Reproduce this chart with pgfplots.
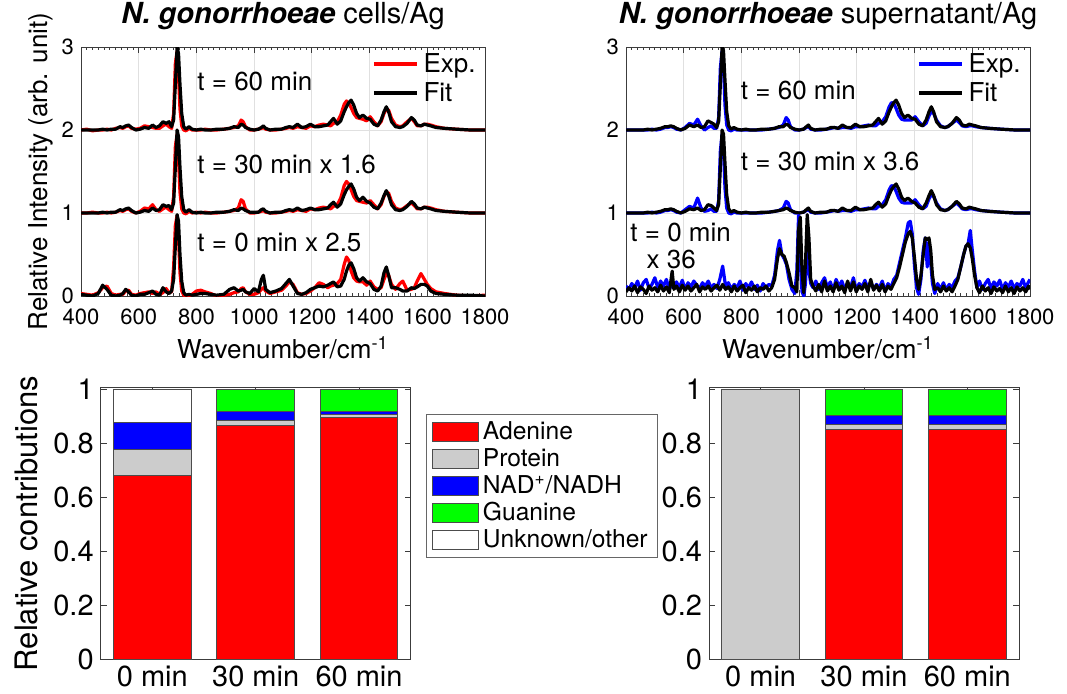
\documentclass[border=0pt]{standalone}
\usepackage{fontspec}
\setmainfont{TeX Gyre Heros}
\usepackage{pgfplots}
\usepackage{pgfplotstable}
\pgfplotsset{compat=1.18}

\definecolor{protgray}{RGB}{204,204,204}
\definecolor{axgray}{RGB}{60,60,60}

% cells/Ag spectra: exp (e) and fit (f), offsets 2 (60 min), 1 (30 min), 0 (0 min)
\pgfplotstableread{
x e60 f60 e30 f30 e0 f0
400 2.00 2.00 1.00 1.00 0.03 0.02
420 2.01 2.00 1.00 1.00 0.02 0.01
440 1.99 2.00 1.01 1.00 0.01 0.00
460 2.00 2.00 1.00 1.00 0.04 0.03
475 2.00 2.01 1.00 1.01 0.10 0.13
490 2.01 2.00 1.01 1.00 0.12 0.08
505 2.00 2.01 1.00 1.01 0.03 0.01
520 2.02 2.01 1.01 1.01 0.01 0.00
535 2.03 2.04 1.03 1.04 0.02 0.01
545 2.02 2.03 1.02 1.03 0.02 0.03
555 2.04 2.05 1.04 1.05 0.06 0.08
565 2.05 2.06 1.05 1.06 0.07 0.05
575 2.02 2.03 1.02 1.03 0.02 0.01
590 2.01 2.00 1.00 1.00 0.01 0.00
605 2.02 2.01 1.02 1.01 0.03 0.02
620 2.05 2.03 1.06 1.03 0.04 0.02
635 2.04 2.02 1.05 1.02 0.05 0.04
648 2.03 2.06 1.10 1.06 0.03 0.06
660 2.02 2.03 1.04 1.03 0.05 0.02
672 2.02 2.05 1.02 1.04 0.02 0.01
684 2.05 2.10 1.05 1.10 0.04 0.10
695 2.07 2.08 1.07 1.08 0.09 0.05
705 2.04 2.10 1.04 1.09 0.04 0.03
714 2.02 2.04 1.02 1.04 0.05 0.06
721 2.20 2.12 1.20 1.12 0.35 0.20
727 2.80 2.55 1.80 1.55 0.85 0.60
733 2.95 3.00 1.95 2.00 0.97 0.98
738 2.65 2.92 1.65 1.92 0.70 0.90
743 2.25 2.55 1.25 1.55 0.28 0.50
749 2.05 2.20 1.05 1.20 0.06 0.18
756 2.00 2.04 1.00 1.04 0.01 0.04
764 1.99 2.01 0.99 1.01 0.00 0.01
774 2.02 2.04 1.02 1.04 0.00 0.02
785 2.00 2.01 1.00 1.01 0.02 0.01
800 2.00 2.00 1.01 1.00 0.06 0.02
815 2.00 2.01 1.00 1.01 0.07 0.03
830 2.01 2.00 1.01 1.00 0.05 0.03
850 2.00 2.00 1.00 1.00 0.03 0.02
870 2.00 2.01 1.00 1.01 0.00 0.01
895 2.01 2.01 1.01 1.01 0.01 0.02
915 2.02 2.02 1.02 1.02 0.02 0.08
930 2.03 2.04 1.03 1.04 0.04 0.10
945 2.05 2.03 1.06 1.03 0.05 0.06
955 2.12 2.07 1.16 1.06 0.09 0.07
962 2.10 2.06 1.14 1.05 0.10 0.08
970 2.04 2.03 1.05 1.03 0.05 0.05
985 2.00 2.01 1.00 1.01 0.02 0.03
1000 2.00 2.00 1.00 1.01 0.02 0.09
1015 2.01 2.01 1.01 1.01 0.04 0.05
1025 2.02 2.03 1.02 1.04 0.08 0.20
1032 2.03 2.05 1.03 1.05 0.10 0.25
1040 2.01 2.02 1.01 1.02 0.06 0.08
1055 2.00 2.00 1.00 1.00 0.03 0.04
1075 2.00 2.01 1.00 1.01 0.05 0.06
1095 2.01 2.01 1.01 1.01 0.07 0.09
1110 2.02 2.03 1.02 1.03 0.12 0.15
1122 2.03 2.04 1.03 1.04 0.17 0.20
1135 2.02 2.03 1.02 1.03 0.14 0.12
1150 2.04 2.07 1.04 1.06 0.04 0.03
1165 2.03 2.03 1.03 1.03 0.02 0.02
1180 2.02 2.04 1.02 1.04 0.03 0.04
1195 2.05 2.07 1.05 1.06 0.06 0.08
1210 2.04 2.04 1.04 1.04 0.10 0.10
1225 2.06 2.04 1.06 1.04 0.16 0.12
1240 2.07 2.05 1.07 1.05 0.14 0.11
1255 2.06 2.06 1.06 1.06 0.10 0.13
1265 2.05 2.10 1.05 1.10 0.12 0.15
1275 2.08 2.14 1.08 1.13 0.13 0.17
1288 2.10 2.07 1.10 1.07 0.15 0.11
1300 2.18 2.11 1.18 1.11 0.20 0.12
1312 2.31 2.22 1.33 1.22 0.38 0.20
1320 2.35 2.28 1.38 1.28 0.47 0.30
1328 2.32 2.33 1.35 1.32 0.43 0.37
1336 2.27 2.36 1.28 1.35 0.30 0.40
1345 2.20 2.30 1.20 1.29 0.22 0.33
1355 2.15 2.20 1.15 1.19 0.18 0.22
1365 2.14 2.15 1.14 1.15 0.17 0.18
1377 2.13 2.18 1.13 1.19 0.17 0.22
1390 2.11 2.14 1.12 1.14 0.13 0.17
1402 2.16 2.13 1.15 1.12 0.18 0.15
1415 2.10 2.07 1.10 1.07 0.11 0.08
1428 2.05 2.05 1.05 1.05 0.08 0.06
1440 2.10 2.12 1.10 1.12 0.10 0.12
1450 2.20 2.22 1.20 1.21 0.20 0.28
1458 2.25 2.28 1.25 1.27 0.27 0.35
1466 2.24 2.22 1.24 1.21 0.25 0.25
1476 2.14 2.10 1.14 1.10 0.14 0.10
1490 2.06 2.04 1.06 1.04 0.08 0.10
1505 2.04 2.03 1.04 1.03 0.15 0.08
1515 2.05 2.04 1.05 1.04 0.18 0.06
1530 2.10 2.08 1.09 1.08 0.07 0.06
1545 2.14 2.15 1.12 1.14 0.08 0.10
1555 2.10 2.12 1.09 1.11 0.10 0.09
1565 2.05 2.06 1.05 1.06 0.18 0.11
1578 2.05 2.05 1.05 1.05 0.27 0.14
1590 2.07 2.07 1.07 1.07 0.20 0.14
1600 2.07 2.06 1.07 1.06 0.14 0.12
1612 2.06 2.05 1.06 1.05 0.09 0.06
1630 2.04 2.03 1.04 1.03 0.05 0.03
1660 2.02 2.02 1.02 1.02 0.03 0.02
1700 2.01 2.01 1.01 1.01 0.01 0.01
1750 2.00 2.00 1.00 1.00 0.00 0.01
1800 2.00 2.00 1.00 1.00 0.01 0.00
}\cells

% supernatant/Ag, 60 and 30 min
\pgfplotstableread{
x e60 f60 e30 f30
400 2.00 2.00 1.00 1.00
420 2.00 2.00 1.00 1.00
440 2.00 2.00 1.00 1.00
460 2.00 2.00 1.00 1.00
475 2.00 2.01 1.00 1.01
490 2.01 2.00 1.01 1.00
505 2.00 2.01 1.00 1.01
520 2.01 2.02 1.01 1.02
535 2.03 2.04 1.03 1.04
545 2.03 2.04 1.03 1.04
555 2.04 2.05 1.04 1.05
565 2.03 2.04 1.03 1.04
575 2.01 2.02 1.01 1.02
590 2.00 2.00 1.00 1.00
605 2.03 2.02 1.04 1.02
620 2.08 2.06 1.08 1.05
635 2.06 2.04 1.06 1.04
648 2.13 2.06 1.18 1.06
660 2.05 2.03 1.06 1.03
672 2.00 2.04 1.02 1.04
684 2.03 2.11 1.03 1.10
695 2.05 2.09 1.05 1.09
705 2.02 2.07 1.02 1.06
714 2.02 2.03 1.02 1.03
721 2.15 2.10 1.15 1.10
727 2.75 2.55 1.75 1.55
733 2.95 3.00 1.95 2.00
738 2.75 2.95 1.75 1.95
743 2.30 2.60 1.30 1.60
749 2.06 2.22 1.06 1.22
756 2.00 2.05 1.00 1.05
764 1.99 2.01 0.99 1.01
774 2.01 2.03 1.01 1.03
785 2.00 2.01 1.00 1.01
800 2.00 2.00 1.00 1.00
815 2.00 2.01 1.00 1.01
830 2.00 2.00 1.00 1.00
850 2.00 2.00 1.00 1.00
870 2.00 2.01 1.00 1.01
895 2.01 2.01 1.01 1.01
915 2.02 2.02 1.02 1.02
930 2.03 2.04 1.03 1.03
945 2.06 2.04 1.06 1.04
955 2.15 2.07 1.14 1.06
962 2.12 2.06 1.12 1.05
970 2.04 2.03 1.04 1.03
985 2.00 2.01 1.00 1.01
1000 2.00 2.00 1.00 1.00
1015 2.01 2.01 1.01 1.01
1025 2.03 2.04 1.03 1.04
1032 2.04 2.06 1.04 1.06
1040 2.01 2.02 1.01 1.02
1055 2.00 2.00 1.00 1.00
1075 2.00 2.01 1.00 1.01
1095 2.01 2.01 1.01 1.01
1110 2.02 2.03 1.02 1.03
1122 2.03 2.03 1.03 1.03
1135 2.02 2.02 1.02 1.02
1150 2.03 2.06 1.03 1.06
1165 2.03 2.03 1.03 1.03
1180 2.02 2.03 1.02 1.03
1195 2.04 2.07 1.04 1.07
1210 2.04 2.04 1.04 1.04
1225 2.05 2.04 1.05 1.04
1240 2.06 2.05 1.06 1.05
1255 2.05 2.06 1.05 1.06
1265 2.05 2.10 1.05 1.10
1275 2.08 2.14 1.08 1.13
1288 2.10 2.07 1.10 1.07
1300 2.16 2.11 1.16 1.11
1312 2.28 2.22 1.28 1.22
1320 2.33 2.28 1.33 1.28
1328 2.32 2.33 1.32 1.32
1336 2.26 2.36 1.26 1.35
1345 2.18 2.30 1.18 1.29
1355 2.13 2.20 1.13 1.19
1365 2.12 2.15 1.12 1.15
1377 2.12 2.18 1.12 1.18
1390 2.12 2.14 1.12 1.14
1402 2.16 2.13 1.16 1.12
1415 2.10 2.07 1.10 1.07
1428 2.05 2.05 1.05 1.05
1440 2.08 2.12 1.08 1.12
1450 2.17 2.22 1.17 1.21
1458 2.22 2.28 1.22 1.27
1466 2.20 2.22 1.20 1.21
1476 2.12 2.10 1.12 1.10
1490 2.05 2.04 1.05 1.04
1505 2.03 2.03 1.03 1.03
1515 2.04 2.04 1.04 1.04
1530 2.08 2.08 1.08 1.08
1545 2.12 2.15 1.12 1.14
1555 2.09 2.12 1.09 1.11
1565 2.05 2.06 1.05 1.06
1578 2.04 2.05 1.04 1.05
1590 2.05 2.07 1.05 1.07
1600 2.05 2.06 1.05 1.06
1612 2.04 2.05 1.04 1.05
1630 2.03 2.03 1.03 1.03
1660 2.02 2.02 1.02 1.02
1700 2.01 2.01 1.01 1.01
1750 2.00 2.00 1.00 1.00
1800 2.00 2.00 1.00 1.00
}\supA

% supernatant/Ag, 0 min (x 36), noisy
\pgfplotstableread{
x e0 f0
400 0.12 0.05
410 0.08 0.10
420 0.15 0.06
430 0.10 0.12
440 0.18 0.04
450 0.07 0.11
460 0.16 0.08
470 0.20 0.03
480 0.09 0.12
490 0.14 0.07
500 0.22 0.10
510 0.10 0.05
520 0.18 0.13
530 0.12 0.06
540 0.20 0.11
550 0.08 0.04
560 0.15 0.30
566 0.12 0.08
575 0.17 0.12
585 0.10 0.05
595 0.19 0.13
605 0.08 0.07
615 0.16 0.12
625 0.11 0.06
635 0.18 0.10
645 0.13 0.14
655 0.09 0.05
665 0.16 0.11
675 0.12 0.08
685 0.18 0.12
695 0.10 0.06
705 0.14 0.10
715 0.09 0.13
725 0.20 0.07
735 0.36 0.14
745 0.12 0.08
755 0.16 0.11
765 0.08 0.05
775 0.14 0.12
785 0.10 0.06
795 0.18 0.10
805 0.07 0.13
815 0.15 0.04
825 0.10 0.10
835 0.17 0.07
845 0.08 0.12
855 0.13 0.05
865 0.06 0.10
875 0.15 0.08
885 0.10 0.12
895 0.14 0.06
905 0.12 0.10
915 0.25 0.20
925 0.55 0.45
932 0.67 0.57
940 0.50 0.50
948 0.45 0.48
956 0.38 0.40
965 0.20 0.28
975 0.08 0.12
985 0.03 0.10
992 0.30 0.05
998 0.97 0.80
1004 0.40 0.95
1010 0.05 0.30
1016 0.00 0.04
1022 0.15 0.40
1028 0.60 0.98
1034 0.30 0.70
1040 0.15 0.20
1048 0.10 0.12
1058 0.18 0.06
1068 0.08 0.14
1078 0.16 0.05
1088 0.22 0.18
1098 0.10 0.06
1108 0.17 0.12
1118 0.07 0.05
1128 0.20 0.16
1138 0.12 0.07
1148 0.18 0.12
1158 0.08 0.04
1168 0.16 0.18
1178 0.10 0.06
1188 0.22 0.17
1198 0.07 0.05
1208 0.15 0.12
1218 0.11 0.08
1228 0.19 0.15
1238 0.09 0.05
1248 0.17 0.20
1258 0.08 0.07
1268 0.14 0.13
1278 0.10 0.06
1288 0.18 0.14
1298 0.06 0.05
1308 0.15 0.12
1318 0.10 0.08
1328 0.20 0.15
1338 0.25 0.22
1348 0.40 0.35
1358 0.55 0.50
1368 0.70 0.65
1378 0.88 0.75
1385 0.90 0.78
1392 0.75 0.70
1400 0.35 0.45
1407 0.10 0.20
1414 0.02 0.08
1422 0.20 0.25
1430 0.55 0.50
1437 0.70 0.70
1444 0.35 0.68
1450 0.65 0.70
1456 0.40 0.55
1462 0.15 0.25
1470 0.03 0.08
1480 0.15 0.10
1490 0.08 0.05
1500 0.16 0.12
1510 0.07 0.06
1520 0.14 0.10
1530 0.10 0.05
1540 0.18 0.12
1550 0.22 0.20
1560 0.35 0.35
1570 0.50 0.50
1578 0.60 0.60
1585 0.62 0.63
1593 0.79 0.58
1600 0.55 0.45
1608 0.30 0.25
1616 0.10 0.10
1625 0.18 0.04
1635 0.08 0.12
1645 0.15 0.06
1655 0.20 0.10
1665 0.09 0.03
1675 0.17 0.11
1685 0.12 0.06
1695 0.19 0.09
1705 0.08 0.04
1715 0.16 0.12
1725 0.11 0.05
1735 0.18 0.10
1745 0.09 0.03
1755 0.15 0.11
1765 0.12 0.06
1775 0.20 0.10
1785 0.10 0.05
1795 0.17 0.12
1800 0.20 0.08
}\supB

\newcommand{\fTick}{\fontsize{11}{13}\selectfont}
\newcommand{\fLab}{\fontsize{13}{15}\selectfont}
\newcommand{\fTitle}{\fontsize{14.5}{17}\selectfont}
\newcommand{\fBig}{\fontsize{14.5}{17}\selectfont}
\newcommand{\fLeg}{\fontsize{12.3}{13.6}\selectfont}

\pgfplotsset{
  spec/.style={
    scale only axis, width=202pt, height=124.5pt, anchor=south west,
    xmin=400, xmax=1800, ymin=0, ymax=3,
    xtick={400,600,...,1800}, ytick={0,1,2,3},
    minor x tick num=9,
    tick align=inside,
    major tick length=3pt, minor tick length=1.6pt,
    grid=major, major grid style={black!12, line width=0.4pt},
    axis line style={axgray, line width=0.5pt},
    tick style={axgray, line width=0.4pt},
    tick label style={font=\fTick},
    xticklabel style={yshift=-2.8pt},
    /pgf/number format/assume math mode=true,
    /pgf/number format/1000 sep={},
    xlabel={Wavenumber/cm\textsuperscript{-1}},
    xlabel style={font=\fLab, at={(axis description cs:0.5,-0.209)}, anchor=center},
    title style={font=\fTitle, at={(axis description cs:0.5,1)}, anchor=base, yshift=6pt},
    legend style={draw=none, fill=none, font=\fLab, at={(axis description cs:0.99,0.985)},
      anchor=north east, inner sep=0pt, row sep=1.5pt,
      nodes={inner xsep=2.5pt, inner ysep=1pt, font=\fLab}},
    legend cell align=left,
    legend image code/.code={\draw[#1, line width=1.7pt] (0pt,0pt) -- (21.5pt,0pt);},
  },
  ln/.style={line width=1.6pt, line join=round},
  bars/.style={
    scale only axis, width=155pt, height=135.8pt, anchor=south west,
    ybar stacked, bar width=0.75,
    xmin=0.5, xmax=3.5, ymin=0, ymax=1.006,
    xtick={1,2,3}, xticklabels={0 min,30 min,60 min},
    ytick={0,0.2,0.4,0.6,0.8,1},
    tick align=inside, major tick length=3pt,
    axis line style={axgray, line width=0.5pt},
    tick style={axgray, line width=0.4pt},
    tick label style={font=\fBig},
    /pgf/number format/assume math mode=true,
    every axis plot/.append style={draw=black!70, line width=0.5pt},
    legend image code/.code={\draw[#1] (0pt,-4.75pt) rectangle (23pt,4.75pt);},
  },
}

\begin{document}
\begin{tikzpicture}
\useasboundingbox (0,0) rectangle (533.5pt,346.5pt);

% ---- top left: cells/Ag
\begin{axis}[spec, at={(40.5pt,198.5pt)},
  title={\textbf{\textit{N. gonorrhoeae}} cells/Ag},
  ylabel={Relative Intensity (arb. unit)},
  ylabel style={font=\fLab, at={(axis description cs:-0.099,0.5)}, anchor=center}]
  \addplot[ln, red] table[x=x, y=e60] {\cells};
  \addplot[ln, black] table[x=x, y=f60] {\cells};
  \addplot[ln, red, forget plot] table[x=x, y=e30] {\cells};
  \addplot[ln, black, forget plot] table[x=x, y=f30] {\cells};
  \addplot[ln, red, forget plot] table[x=x, y=e0] {\cells};
  \addplot[ln, black, forget plot] table[x=x, y=f0] {\cells};
  \legend{Exp.,Fit}
  \node[font=\fLab, anchor=west, inner sep=0pt] at (axis cs:802,2.59) {t = 60 min};
  \node[font=\fLab, anchor=west, inner sep=0pt] at (axis cs:802,1.58) {t = 30 min x 1.6};
  \node[font=\fLab, anchor=west, inner sep=0pt] at (axis cs:802,0.64) {t = 0 min x 2.5};
\end{axis}

% ---- top right: supernatant/Ag
\begin{axis}[spec, at={(313pt,198.5pt)},
  title={\textbf{\textit{N. gonorrhoeae}} supernatant/Ag}]
  \addplot[ln, blue] table[x=x, y=e60] {\supA};
  \addplot[ln, black] table[x=x, y=f60] {\supA};
  \addplot[ln, blue, forget plot] table[x=x, y=e30] {\supA};
  \addplot[ln, black, forget plot] table[x=x, y=f30] {\supA};
  \addplot[ln, blue, forget plot] table[x=x, y=e0] {\supB};
  \addplot[ln, black, forget plot] table[x=x, y=f0] {\supB};
  \legend{Exp.,Fit}
  \node[font=\fLab, anchor=west, inner sep=0pt] at (axis cs:797,2.48) {t = 60 min};
  \node[font=\fLab, anchor=west, inner sep=0pt] at (axis cs:797,1.62) {t = 30 min x 3.6};
  \node[font=\fLab, anchor=west, inner sep=0pt] at (axis cs:414,0.76) {t = 0 min};
  \node[font=\fLab, anchor=west, inner sep=0pt] at (axis cs:470,0.44) {x 36};
\end{axis}

% ---- bottom left: contributions, cells
\begin{axis}[bars, at={(50.35pt,16.85pt)},
  ylabel={Relative contributions},
  ylabel style={font=\fontsize{15.5}{18}\selectfont, at={(axis description cs:-0.241,0.5)}, anchor=center},
  legend style={at={(axis description cs:1.048,0.903)}, anchor=north west,
    draw=black!60, fill=white, font=\fLeg, inner xsep=3pt, inner ysep=2pt,
    row sep=0pt, nodes={inner xsep=2pt, inner ysep=1.5pt}},
  legend cell align=left]
  \addplot[fill=red] coordinates {(1,0.679) (2,0.867) (3,0.896)};
  \addplot[fill=protgray] coordinates {(1,0.099) (2,0.019) (3,0.009)};
  \addplot[fill=blue] coordinates {(1,0.100) (2,0.031) (3,0.012)};
  \addplot[fill=green] coordinates {(1,0.000) (2,0.083) (3,0.083)};
  \addplot[fill=white] coordinates {(1,0.122) (2,0.000) (3,0.000)};
  \legend{Adenine,Protein,NAD\textsuperscript{+}/NADH,Guanine,Unknown/other}
\end{axis}

% ---- bottom right: contributions, supernatant (30 and 60 min stacked)
\begin{axis}[bars, at={(354.5pt,16.85pt)}]
  \addplot[fill=red] coordinates {(2,0.853) (3,0.853)};
  \addplot[fill=protgray] coordinates {(2,0.018) (3,0.018)};
  \addplot[fill=blue] coordinates {(2,0.031) (3,0.031)};
  \addplot[fill=green] coordinates {(2,0.098) (3,0.098)};
\end{axis}
% 0 min bar of the supernatant: protein only
\begin{axis}[bars, at={(354.5pt,16.85pt)}, hide axis]
  \addplot[fill=protgray] coordinates {(1,1.000)};
\end{axis}
\end{tikzpicture}
\end{document}
